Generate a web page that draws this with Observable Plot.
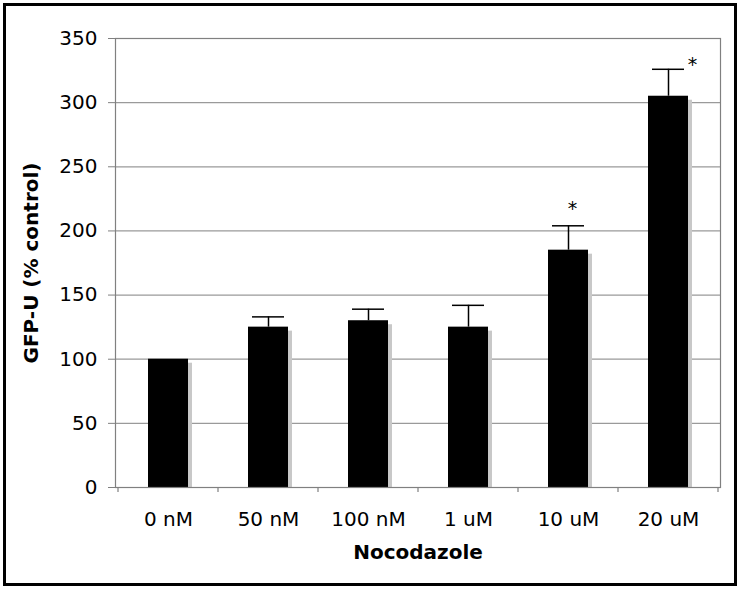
<!DOCTYPE html>
<html><head><meta charset="utf-8">
<script src="https://cdn.jsdelivr.net/npm/d3@7"></script>
<script src="https://cdn.jsdelivr.net/npm/@observablehq/plot@0.6"></script>
<style>
body{margin:0;background:#fff;}
#box{position:absolute;left:3px;top:3px;width:728px;height:577px;border:3px solid #000;background:#fff;}
#box svg{display:block;}
</style></head><body><div id="box"></div>
<script>
const categories = ["0 nM", "50 nM", "100 nM", "1 uM", "10 uM", "20 uM"];
const means = [100, 125, 130, 125, 185, 305];
const upper = [null, 133, 139, 142, 204, 326];
const yTicks = [0, 50, 100, 150, 200, 250, 300, 350];
const xTitle = "Nocodazole";
const yTitle = "GFP-U (% control)";

const rows = categories.map((c, i) => ({cat: c, mean: means[i], upper: upper[i]}));
const errRows = rows.filter(d => d.upper != null);

// tick marks at the band boundaries, computed from Plot's x scale
function boundaryTicks(index, scales, values, dims) {
  const x = scales.x;
  const bw = typeof x.bandwidth === "function" ? x.bandwidth() : x.bandwidth;
  const xs = categories.map(c => x(c)).concat([x(categories[categories.length - 1]) + bw]);
  const y0 = scales.y(0);
  const g = d3.create("svg:g").attr("stroke", "#808080").attr("stroke-width", 1.2);
  for (const v of xs) {
    g.append("line").attr("x1", v).attr("x2", v).attr("y1", y0).attr("y2", y0 + 5);
  }
  return g.node();
}

const chart = Plot.plot({
  width: 728,
  height: 577,
  marginLeft: 109,
  marginRight: 14,
  marginTop: 32,
  marginBottom: 96,
  style: {fontFamily: "'DejaVu Sans', Verdana, sans-serif", fontSize: "20px", color: "#000", background: "#fff"},
  x: {type: "band", domain: categories, padding: 0},
  y: {domain: [0, 350], ticks: yTicks},
  marks: [
    Plot.gridY(yTicks, {stroke: "#9a9a9a", strokeOpacity: 1, strokeWidth: 1.2}),
    Plot.barY(rows, {x: "cat", y: "mean", fill: "#c8c8c8", insetLeft: 30, insetRight: 30, dx: 4, insetTop: 4}),
    Plot.barY(rows, {x: "cat", y: "mean", fill: "#000", insetLeft: 30, insetRight: 30}),
    Plot.frame({stroke: "#808080", strokeWidth: 1.2}),
    boundaryTicks,
    Plot.ruleX(errRows, {x: "cat", y1: "mean", y2: "upper", stroke: "#000", strokeWidth: 1.5}),
    Plot.tickY(errRows, {x: "cat", y: "upper", stroke: "#000", strokeWidth: 1.5, insetLeft: 34, insetRight: 34}),
    Plot.text(rows.filter(d => d.cat === "10 uM"), {x: "cat", y: "upper", text: () => "*", fontSize: 19, fill: "#000", dx: 4, dy: -17, lineAnchor: "middle"}),
    Plot.text(rows.filter(d => d.cat === "20 uM"), {x: "cat", y: "upper", text: () => "*", fontSize: 19, fill: "#000", dx: 24, dy: -4, lineAnchor: "middle"}),
    Plot.axisY(yTicks, {tickSize: 7, tickPadding: 11, stroke: "#808080", fill: "#000", label: null, tickFormat: d => String(d)}),
    Plot.axisX({tickSize: 0, tickPadding: 24, label: null, fill: "#000"}),
    Plot.text([xTitle], {frameAnchor: "bottom", dy: 65, fontWeight: "bold", fontSize: 20, lineAnchor: "middle", textAnchor: "middle", fill: "#000"}),
    Plot.text([yTitle], {frameAnchor: "left", rotate: -90, dx: -84, fontWeight: "bold", fontSize: 20, lineAnchor: "middle", textAnchor: "middle", fill: "#000"})
  ]
});
document.getElementById("box").appendChild(chart);
</script>
</body></html>
